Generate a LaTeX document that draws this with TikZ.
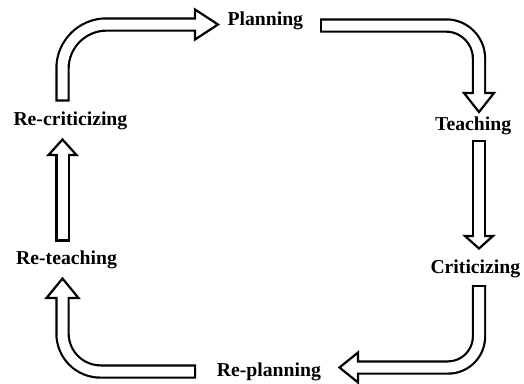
\documentclass[tikz,border=0pt]{standalone}
\usepackage{fontspec}
\setmainfont{Liberation Serif}
\usetikzlibrary{calc}
\tikzset{
  lbl/.style={anchor=base west, inner sep=0pt, font=\bfseries\fontsize{19.7}{22}\selectfont},
  shaftout/.style={line width=14.4pt, draw=black, line cap=butt},
  shaftin/.style={line width=10pt, draw=white, line cap=butt, shorten <=2.2pt},
  headshape/.style={fill=white, draw=black, line width=2.2pt, line join=miter},
}
\begin{document}
\begin{tikzpicture}[x=1pt, y=-1pt]
\useasboundingbox (0,0) rectangle (524,383);
% labels
\node[lbl] (plan) at (227.3,25.7) {Planning};
\node[lbl] (teach) at (435,130.7) {Teaching};
\node[lbl] (crit) at (430.3,273.3) {Criticizing};
\node[lbl] (replan) at (216.7,376.7) {Re-planning};
\node[lbl] (reteach) at (16,264) {Re-teaching};
\node[lbl] (recrit) at (13.3,125) {Re-criticizing};
% arrow end points
\coordinate (a1t) at (62.5,101.5);  \coordinate (a1b) at (195,24.5);
\coordinate (a2t) at (320,25.5);    \coordinate (a2b) at (479,93);
\coordinate (a3t) at (479,140);     \coordinate (a3b) at (479,236);
\coordinate (a4t) at (479,285);     \coordinate (a4b) at (358,367.5);
\coordinate (a5t) at (196,371.5);   \coordinate (a5b) at (62.5,298);
\coordinate (a6t) at (62.5,241.5);  \coordinate (a6b) at (62.5,155);
% arrow 1: Re-criticizing -> Planning
\draw[shaftout, rounded corners=44pt] (a1t) |- (a1b);
\draw[headshape] ($(a1b)+(0,-15)$) -- ($(a1b)+(23,0)$) -- ($(a1b)+(0,15)$) -- cycle;
\draw[shaftin, rounded corners=44pt] (a1t) |- ($(a1b)+(3,0)$);
% arrow 2: Planning -> Teaching
\draw[shaftout, rounded corners=33pt] (a2t) -| (a2b);
\draw[headshape] ($(a2b)+(-15,0)$) -- ($(a2b)+(0,19)$) -- ($(a2b)+(15,0)$) -- cycle;
\draw[shaftin, rounded corners=33pt] (a2t) -| ($(a2b)+(0,3)$);
% arrow 3: Teaching -> Criticizing
\draw[shaftout] (a3t) -- (a3b);
\draw[headshape] ($(a3b)+(-14,0)$) -- ($(a3b)+(0,12.5)$) -- ($(a3b)+(14,0)$) -- cycle;
\draw[shaftin] (a3t) -- ($(a3b)+(0,3)$);
% arrow 4: Criticizing -> Re-planning
\draw[shaftout, rounded corners=31pt] (a4t) |- (a4b);
\draw[headshape] ($(a4b)+(0,-15)$) -- ($(a4b)+(-18.5,0)$) -- ($(a4b)+(0,15)$) -- cycle;
\draw[shaftin, rounded corners=31pt] (a4t) |- ($(a4b)+(-3,0)$);
% arrow 5: Re-planning -> Re-teaching
\draw[shaftout, rounded corners=38pt] (a5t) -| (a5b);
\draw[headshape] ($(a5b)+(-16,0)$) -- ($(a5b)+(0,-19.5)$) -- ($(a5b)+(16,0)$) -- cycle;
\draw[shaftin, rounded corners=38pt] (a5t) -| ($(a5b)+(0,-3)$);
% arrow 6: Re-teaching -> Re-criticizing
\draw[shaftout] (a6t) -- (a6b);
\draw[headshape] ($(a6b)+(-14,0)$) -- ($(a6b)+(0,-15.5)$) -- ($(a6b)+(14,0)$) -- cycle;
\draw[shaftin] (a6t) -- ($(a6b)+(0,-3)$);
\end{tikzpicture}
\end{document}
